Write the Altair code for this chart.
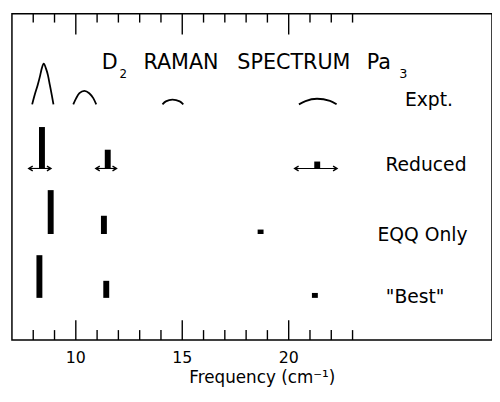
import altair as alt
import pandas as pd

# ---------------- data ----------------
# Experimental peaks (frequency in cm^-1, relative intensity)
expt_p1_f = [7.95, 8.07, 8.21, 8.33, 8.40, 8.49, 8.60, 8.69, 8.78, 8.87, 8.95]
expt_p1_h = [0.0, 0.97, 1.97, 2.97, 3.63, 4.13, 3.63, 2.97, 1.97, 0.97, 0.0]
expt_p2_f = [9.88, 10.02, 10.17, 10.40, 10.63, 10.82, 10.96]
expt_p2_h = [0.0, 0.63, 1.13, 1.37, 1.13, 0.63, 0.0]
expt_p3_f = [14.07, 14.23, 14.54, 14.88, 15.05]
expt_p3_h = [0.0, 0.30, 0.47, 0.30, 0.0]
expt_p4_f = [20.48, 20.79, 21.33, 21.94, 22.25]
expt_p4_h = [0.0, 0.33, 0.57, 0.36, 0.0]

# Calculated lines
reduced_f = [8.41, 11.50, 21.34]
reduced_h = [4.2, 1.9, 0.7]
reduced_lo = [7.79, 10.94, 20.28]
reduced_hi = [8.83, 11.91, 22.27]

eqq_f = [8.82, 11.32, 18.68]
eqq_h = [4.45, 1.85, 0.45]

best_f = [8.29, 11.43, 21.23]
best_h = [4.33, 1.73, 0.5]

row_names = ["Expt.", "Reduced", "EQQ Only", '"Best"']
row_base = [23.9, 17.4, 10.75, 4.27]

major_ticks = [10, 15, 20]
minor_ticks = [8, 9, 11, 12, 13, 14, 16, 17, 18, 19, 21, 22, 23]
tick_labels = [10, 15, 20]
x_title = "Frequency (cm⁻¹)"

# ---------------- tables ----------------
peaks = []
for pid, (fs, hs) in enumerate([(expt_p1_f, expt_p1_h), (expt_p2_f, expt_p2_h),
                                (expt_p3_f, expt_p3_h), (expt_p4_f, expt_p4_h)]):
    for f, h in zip(fs, hs):
        peaks.append({"peak": pid, "f": f, "y": row_base[0] + h})
peaks_df = pd.DataFrame(peaks)

bars = []
for base, fs, hs in [(row_base[1], reduced_f, reduced_h),
                     (row_base[2], eqq_f, eqq_h),
                     (row_base[3], best_f, best_h)]:
    for f, h in zip(fs, hs):
        bars.append({"f": f, "y": base, "y2": base + h})
bars_df = pd.DataFrame(bars)

arrows_df = pd.DataFrame({"lo": reduced_lo, "hi": reduced_hi,
                          "y": [row_base[1]] * len(reduced_lo)})

maj_df = pd.DataFrame({"t": major_ticks})
min_df = pd.DataFrame({"t": minor_ticks})

W, H = 487, 331
YMAX = 33.1
FONT = "DejaVu Sans"
xs = alt.Scale(domain=[7, 29.55], nice=False, zero=False)
ys = alt.Scale(domain=[0, YMAX], nice=False, zero=False)


def X(field):
    return alt.X(field, type="quantitative", scale=xs, axis=None)


def Yf(field):
    return alt.Y(field, type="quantitative", scale=ys, axis=None)


expt = alt.Chart(peaks_df).mark_line(interpolate="monotone", color="black",
                                     strokeWidth=1.8).encode(
    x=X("f"), y=Yf("y"), detail="peak:N")

bar_layer = alt.Chart(bars_df).mark_rule(color="black", strokeWidth=6).encode(
    x=X("f"), y=Yf("y"), y2="y2:Q")

arrow_line = alt.Chart(arrows_df).mark_rule(color="black", strokeWidth=1.1).encode(
    x=X("lo"), x2="hi:Q", y=Yf("y"))
head_l = alt.Chart(arrows_df).mark_point(shape="M2,-1.2L0,0L2,1.2", filled=False,
                                         size=16, strokeWidth=1.4, color="black",
                                         opacity=1).encode(x=X("lo"), y=Yf("y"))
head_r = alt.Chart(arrows_df).mark_point(shape="M-2,-1.2L0,0L-2,1.2", filled=False,
                                         size=16, strokeWidth=1.4, color="black",
                                         opacity=1).encode(x=X("hi"), y=Yf("y"))


# inward axis ticks drawn as tick marks centred half their length from the edge
def tick_layer(df, center, length):
    return alt.Chart(df).transform_calculate(yc=str(center)).mark_tick(
        orient="vertical", color="black", thickness=1.4, size=length,
        opacity=1).encode(x=X("t"), y=Yf("yc"))


tick_layers = [
    tick_layer(maj_df, 1.0, 20), tick_layer(min_df, 0.5, 10),
    tick_layer(maj_df, YMAX - 1.05, 21), tick_layer(min_df, YMAX - 0.45, 9),
]

labels = alt.Chart(pd.DataFrame({"lab": tick_labels})).mark_text(
    font=FONT, fontSize=16, baseline="alphabetic", align="center",
    color="black").encode(x=X("lab"), y=alt.value(H + 23),
                          text=alt.Text("lab:Q", format="d"))


def txt(s, x, y, size, align="center"):
    return alt.Chart(pd.DataFrame({"s": [s]})).mark_text(
        font=FONT, fontSize=size, align=align, baseline="alphabetic",
        color="black").encode(x=alt.value(x), y=alt.value(y), text="s:N")


texts = [
    txt("D", 91, 56, 21, "left"),
    txt("2", 109, 65, 12, "left"),
    txt("RAMAN", 171.5, 56, 21),
    txt("SPECTRUM", 286, 56, 21),
    txt("Pa", 360, 56, 21, "left"),
    txt("3", 393, 65, 13, "left"),
    txt(row_names[0], 423, 94, 19),
    txt(row_names[1], 420, 160, 19),
    txt(row_names[2], 416.5, 231, 19),
    txt(row_names[3], 409, 294, 19),
    txt(x_title, 254, H + 44, 17),
]

chart = alt.layer(expt, bar_layer, arrow_line, head_l, head_r,
                  *tick_layers, labels, *texts).properties(
    width=W, height=H,
    autosize=alt.AutoSizeParams(type="none"),
    padding={"left": 4, "top": 3, "right": 0, "bottom": 48},
    background="white",
).configure_view(stroke="black", strokeWidth=1.5)

chart.save("out.html", embed_options={"renderer": "svg", "actions": False})
